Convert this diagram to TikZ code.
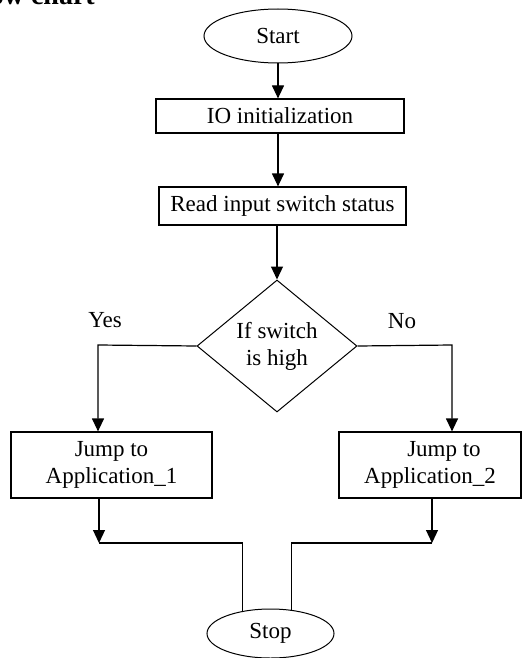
\documentclass[tikz,border=0pt]{standalone}
\usepackage{fontspec}
\setmainfont{Liberation Serif}
\usetikzlibrary{shapes.geometric,arrows.meta}
\begin{document}
\begin{tikzpicture}[x=1pt,y=-1pt,
  every node/.style={font=\fontsize{23}{27}\selectfont},
  procbox/.style={draw, rectangle, line width=1.2pt, inner sep=0pt, align=center},
  term/.style={draw, ellipse, line width=1pt, inner sep=0pt},
  decide/.style={draw, diamond, line width=1pt, inner sep=0pt, align=center, aspect=1.2},
  conn/.style={line width=1.2pt},
  arr/.style={conn, -{Triangle[width=12pt,length=13pt]}},
]
\useasboundingbox (0,0) rectangle (523,658);
\clip (0,0) rectangle (523,658);
\node[font=\bfseries\fontsize{28}{32}\selectfont, anchor=base east, inner sep=0pt] (title) at (95,5) {Flow chart};
\node[term, minimum width=148pt, minimum height=54pt] (start) at (278,36) {Start};
\node[procbox, minimum width=248pt, minimum height=34pt] (io) at (280,116) {IO initialization};
\node[procbox, minimum width=247pt, minimum height=38pt] (read) at (282.5,206) {Read input switch status};
\node[decide, minimum width=160pt, minimum height=132pt] (dec) at (277,346) {If switch\\is high};
\node (yes) at (105,320) {Yes};
\node (no) at (402,321) {No};
\node[procbox, minimum width=201pt, minimum height=66pt] (j1) at (111.5,465) {Jump to\\Application\_1};
\node[procbox, minimum width=182pt, minimum height=66pt] (j2) at (430,465) {\hspace*{28pt}Jump to\\Application\_2};
\node[term, minimum width=127pt, minimum height=49pt] (stop) at (270.5,633.5) {Stop};
\coordinate (yc) at (98,345);
\coordinate (nc) at (452,345);
\coordinate (m1) at (99,543);
\coordinate (m2) at (432,543);
\draw[arr] (start) -- (start |- io.north);
\draw[arr] (io.south -| start) -- (start |- read.north);
\draw[arr] (read.south -| dec) -- (dec.north);
\draw[arr] (dec.west) -- (yc) -- (yc |- j1.north);
\draw[arr] (dec.east) -- (nc) -- (nc |- j2.north);
\draw[arr] (m1 |- j1.south) -- (m1);
\draw[conn] (m1) -| (stop.141);
\draw[arr] (m2 |- j2.south) -- (m2);
\draw[conn] (m2) -| (stop.48);
\end{tikzpicture}
\end{document}
